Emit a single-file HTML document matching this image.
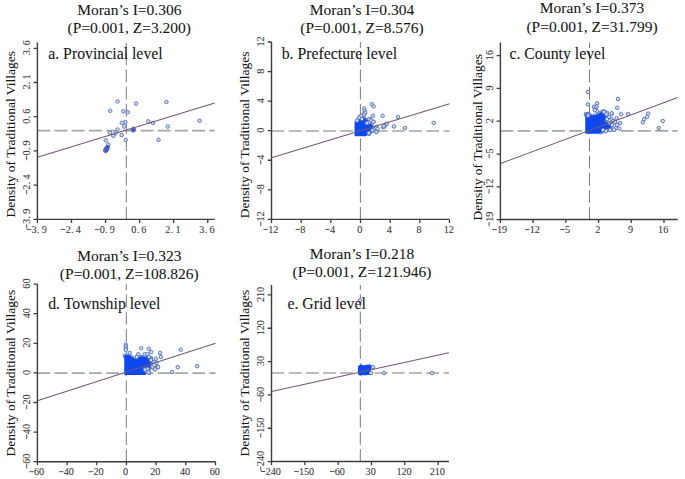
<!DOCTYPE html>
<html><head><meta charset="utf-8"><style>
html,body{margin:0;padding:0;background:#fff;}
body{width:685px;height:479px;overflow:hidden;}
svg{display:block;}
.tk{font-family:"Liberation Sans",sans-serif;font-size:9.8px;fill:#303030;stroke:#303030;stroke-width:0.15px;}
.tks{font-family:"Liberation Serif",serif;font-size:10.2px;fill:#3a3a3a;stroke:#3a3a3a;stroke-width:0.1px;}
.tt{font-family:"Liberation Serif",serif;font-size:15.5px;fill:#161616;stroke:#161616;stroke-width:0.07px;}
.pl{font-family:"Liberation Serif",serif;font-size:15.8px;fill:#161616;stroke:#161616;stroke-width:0.07px;}
.tkg{fill:#555;}
.yl{font-family:"Liberation Serif",serif;font-size:13.5px;fill:#161616;stroke:#161616;stroke-width:0.07px;}
</style></head><body>
<svg width="685" height="479" viewBox="0 0 685 479">
<line x1="37.40" y1="130.70" x2="214.70" y2="130.70" stroke="#a6a6a6" stroke-width="1.7" stroke-dasharray="12.8 4.4"/>
<line x1="126.30" y1="219.40" x2="126.30" y2="42.50" stroke="#7a7a7a" stroke-width="1" stroke-dasharray="12.8 4.4" stroke-dashoffset="0.5"/>
<g fill="#d2e0f6" stroke="#5873b8" stroke-width="1.05"></g>
<g fill="#d2e0f6" stroke="#5873b8" stroke-width="0.95"><circle cx="117.5" cy="101.4" r="1.75"/><circle cx="136.1" cy="103.6" r="1.75"/><circle cx="166.4" cy="102" r="1.75"/><circle cx="110.25" cy="110.8" r="1.75"/><circle cx="123.3" cy="111.4" r="1.75"/><circle cx="127.75" cy="112.1" r="1.75"/><circle cx="121.8" cy="122.8" r="1.75"/><circle cx="125.4" cy="122.1" r="1.75"/><circle cx="124.2" cy="126.5" r="1.75"/><circle cx="117.5" cy="129.5" r="1.75"/><circle cx="110" cy="132.7" r="1.75"/><circle cx="113.3" cy="135.8" r="1.75"/><circle cx="115.4" cy="133.3" r="1.75"/><circle cx="121.7" cy="135" r="1.75"/><circle cx="125.7" cy="140" r="1.75"/><circle cx="133.3" cy="128.8" r="1.75"/><circle cx="133.3" cy="130.5" r="1.75"/><circle cx="105.8" cy="140.4" r="1.75"/><circle cx="108.3" cy="144.6" r="1.75"/><circle cx="106.7" cy="148.5" r="1.75"/><circle cx="107.5" cy="147" r="1.75"/><circle cx="105.8" cy="150.8" r="1.75"/><circle cx="105.2" cy="150" r="1.75"/><circle cx="106.5" cy="148" r="1.75"/><circle cx="107" cy="149.5" r="1.75"/><circle cx="106" cy="150.5" r="1.75"/><circle cx="107.5" cy="147.5" r="1.75"/><circle cx="105.5" cy="151" r="1.75"/><circle cx="133.8" cy="129.5" r="1.75"/><circle cx="132.9" cy="129.9" r="1.75"/><circle cx="148.3" cy="121.3" r="1.75"/><circle cx="153" cy="123" r="1.75"/><circle cx="167.7" cy="126.6" r="1.75"/><circle cx="199.5" cy="120.7" r="1.75"/><circle cx="158.5" cy="139.8" r="1.75"/><circle cx="106.6" cy="148.6" r="1.9" fill="#2c58d8"/><circle cx="106.0" cy="150.3" r="1.9" fill="#2c58d8"/><circle cx="107.3" cy="147.4" r="1.9" fill="#2c58d8"/><circle cx="133.4" cy="129.8" r="1.9" fill="#2c58d8"/></g>
<line x1="37.40" y1="157.36" x2="214.70" y2="103.11" stroke="#745878" stroke-width="1.05"/>
<path d="M37.40 42.50V219.40H214.70" fill="none" stroke="#3d3d3d" stroke-width="1.4"/>
<path d="M37.43 219.40v3.6M37.40 219.36h-3.8M71.50 219.40v3.6M37.40 185.14h-3.8M105.56 219.40v3.6M37.40 150.93h-3.8M139.63 219.40v3.6M37.40 116.71h-3.8M173.69 219.40v3.6M37.40 82.50h-3.8M207.76 219.40v3.6M37.40 48.28h-3.8" stroke="#3d3d3d" stroke-width="1.3"/>
<g transform="translate(36.63 232.80)" class="tkg"><text class="tks" x="-2.52 1.60 7.57" y="0" text-anchor="middle">3.9</text><rect x="-9.80" y="-3.90" width="4.40" height="1.00"/></g>
<g transform="translate(30.10 219.36) rotate(-90) translate(0.5 0)" class="tkg"><text class="tks" x="-2.52 1.60 7.57" y="0" text-anchor="middle">3.9</text><rect x="-9.80" y="-3.90" width="4.40" height="1.00"/></g>
<g transform="translate(70.70 232.80)" class="tkg"><text class="tks" x="-2.52 1.60 7.57" y="0" text-anchor="middle">2.4</text><rect x="-9.80" y="-3.90" width="4.40" height="1.00"/></g>
<g transform="translate(30.10 185.14) rotate(-90) translate(0.5 0)" class="tkg"><text class="tks" x="-2.52 1.60 7.57" y="0" text-anchor="middle">2.4</text><rect x="-9.80" y="-3.90" width="4.40" height="1.00"/></g>
<g transform="translate(104.76 232.80)" class="tkg"><text class="tks" x="-2.52 1.60 7.57" y="0" text-anchor="middle">0.9</text><rect x="-9.80" y="-3.90" width="4.40" height="1.00"/></g>
<g transform="translate(30.10 150.93) rotate(-90) translate(0.5 0)" class="tkg"><text class="tks" x="-2.52 1.60 7.57" y="0" text-anchor="middle">0.9</text><rect x="-9.80" y="-3.90" width="4.40" height="1.00"/></g>
<g transform="translate(138.83 232.80)" class="tkg"><text class="tks" x="-5.05 -0.92 5.05" y="0" text-anchor="middle">0.6</text></g>
<g transform="translate(30.10 116.71) rotate(-90) translate(0.5 0)" class="tkg"><text class="tks" x="-5.05 -0.92 5.05" y="0" text-anchor="middle">0.6</text></g>
<g transform="translate(172.89 232.80)" class="tkg"><text class="tks" x="-5.05 -0.92 5.05" y="0" text-anchor="middle">2.1</text></g>
<g transform="translate(30.10 82.50) rotate(-90) translate(0.5 0)" class="tkg"><text class="tks" x="-5.05 -0.92 5.05" y="0" text-anchor="middle">2.1</text></g>
<g transform="translate(206.96 232.80)" class="tkg"><text class="tks" x="-5.05 -0.92 5.05" y="0" text-anchor="middle">3.6</text></g>
<g transform="translate(30.10 48.28) rotate(-90) translate(0.5 0)" class="tkg"><text class="tks" x="-5.05 -0.92 5.05" y="0" text-anchor="middle">3.6</text></g>
<text class="tt" x="129.3" y="15" text-anchor="middle">Moran’s I=0.306</text>
<text class="tt" x="129.3" y="33" text-anchor="middle">(P=0.001, Z=3.200)</text>
<text class="pl" x="48.2" y="59">a. Provincial level</text>
<text class="yl" transform="translate(14.8 134.3) rotate(-90)" text-anchor="middle">Density of Traditional Villages</text>
<line x1="271.50" y1="131.00" x2="449.50" y2="131.00" stroke="#a6a6a6" stroke-width="1.7" stroke-dasharray="12.8 4.4"/>
<line x1="360.40" y1="219.40" x2="360.40" y2="42.00" stroke="#7a7a7a" stroke-width="1" stroke-dasharray="12.8 4.4" stroke-dashoffset="0.5"/>
<g fill="#d2e0f6" stroke="#5873b8" stroke-width="1.05"><circle cx="360.6" cy="116.6" r="1.85"/><circle cx="363.2" cy="117.8" r="1.85"/><circle cx="366.0" cy="119.8" r="1.85"/><circle cx="368.6" cy="122.2" r="1.85"/><circle cx="371.2" cy="124.6" r="1.85"/><circle cx="372.4" cy="127.5" r="1.85"/><circle cx="371.6" cy="131.0" r="1.85"/><circle cx="369.0" cy="133.6" r="1.85"/></g>
<path d="M355.3 122.3L356.5 120.5L358.2 117.6L360.6 116.6L363.2 117.8L366 119.8L368.6 122.2L371.2 124.6L372.4 127.5L371.6 131L369 133.6L365.6 135.4L355.3 135.6Z" fill="#0c48ee" stroke="#0c48ee" stroke-width="1.5" stroke-linejoin="round"/>
<g fill="#d2e0f6" stroke="#5873b8" stroke-width="0.95"><circle cx="371.8" cy="104.2" r="1.75"/><circle cx="373.6" cy="106.4" r="1.75"/><circle cx="364.1" cy="108.5" r="1.75"/><circle cx="364.8" cy="112.6" r="1.75"/><circle cx="363.4" cy="114.8" r="1.75"/><circle cx="372.8" cy="115.8" r="1.75"/><circle cx="382.6" cy="115.8" r="1.75"/><circle cx="398" cy="117" r="1.75"/><circle cx="433.7" cy="122.8" r="1.75"/><circle cx="394" cy="126.5" r="1.75"/><circle cx="405" cy="128" r="1.75"/><circle cx="386.7" cy="123.9" r="1.75"/><circle cx="384.5" cy="126.5" r="1.75"/><circle cx="383" cy="127.2" r="1.75"/><circle cx="376.5" cy="131.6" r="1.75"/><circle cx="375" cy="128.7" r="1.75"/><circle cx="370" cy="119.2" r="1.75"/><circle cx="373.6" cy="121.8" r="1.75"/><circle cx="369.2" cy="133" r="1.75"/><circle cx="364.7" cy="110.9" r="1.75"/><circle cx="365" cy="112.8" r="1.75"/><circle cx="364" cy="114.7" r="1.75"/><circle cx="361.25" cy="116" r="1.75"/><circle cx="369.4" cy="119.4" r="1.75"/><circle cx="371.25" cy="120.6" r="1.75"/><circle cx="373.4" cy="121.9" r="1.75"/><circle cx="368.75" cy="122.5" r="1.75"/><circle cx="376.25" cy="126.9" r="1.75"/><circle cx="377.5" cy="128.75" r="1.75"/><circle cx="372.5" cy="130.3" r="1.75"/><circle cx="375.6" cy="130.9" r="1.75"/><circle cx="376.25" cy="131.9" r="1.75"/><circle cx="368.75" cy="133.1" r="1.75"/><circle cx="383.75" cy="126.25" r="1.75"/><circle cx="366.9" cy="123.1" r="1.75"/><circle cx="359" cy="117.5" r="1.75"/><circle cx="357" cy="120.5" r="1.75"/><circle cx="362" cy="119" r="1.75"/></g>
<line x1="271.50" y1="157.76" x2="449.50" y2="103.64" stroke="#745878" stroke-width="1.05"/>
<path d="M271.50 42.00V219.40H449.50" fill="none" stroke="#3d3d3d" stroke-width="1.4"/>
<path d="M271.50 219.40v3.6M271.50 219.38h-3.8M301.16 219.40v3.6M271.50 189.82h-3.8M330.83 219.40v3.6M271.50 160.26h-3.8M360.50 219.40v3.6M271.50 130.70h-3.8M390.17 219.40v3.6M271.50 101.14h-3.8M419.84 219.40v3.6M271.50 71.58h-3.8M449.50 219.40v3.6M271.50 42.02h-3.8" stroke="#3d3d3d" stroke-width="1.3"/>
<g transform="translate(270.70 232.80)" class="tkg"><text class="tks" x="0.00 5.05" y="0" text-anchor="middle">12</text><rect x="-7.27" y="-3.90" width="4.40" height="1.00"/></g>
<g transform="translate(264.20 219.38) rotate(-90) translate(0.5 0)" class="tkg"><text class="tks" x="0.00 5.05" y="0" text-anchor="middle">12</text><rect x="-7.27" y="-3.90" width="4.40" height="1.00"/></g>
<g transform="translate(300.36 232.80)" class="tkg"><text class="tks" x="2.52" y="0" text-anchor="middle">8</text><rect x="-4.75" y="-3.90" width="4.40" height="1.00"/></g>
<g transform="translate(264.20 189.82) rotate(-90) translate(0.5 0)" class="tkg"><text class="tks" x="2.52" y="0" text-anchor="middle">8</text><rect x="-4.75" y="-3.90" width="4.40" height="1.00"/></g>
<g transform="translate(330.03 232.80)" class="tkg"><text class="tks" x="2.52" y="0" text-anchor="middle">4</text><rect x="-4.75" y="-3.90" width="4.40" height="1.00"/></g>
<g transform="translate(264.20 160.26) rotate(-90) translate(0.5 0)" class="tkg"><text class="tks" x="2.52" y="0" text-anchor="middle">4</text><rect x="-4.75" y="-3.90" width="4.40" height="1.00"/></g>
<g transform="translate(359.70 232.80)" class="tkg"><text class="tks" x="0.00" y="0" text-anchor="middle">0</text></g>
<g transform="translate(264.20 130.70) rotate(-90) translate(0.5 0)" class="tkg"><text class="tks" x="0.00" y="0" text-anchor="middle">0</text></g>
<g transform="translate(389.37 232.80)" class="tkg"><text class="tks" x="0.00" y="0" text-anchor="middle">4</text></g>
<g transform="translate(264.20 101.14) rotate(-90) translate(0.5 0)" class="tkg"><text class="tks" x="0.00" y="0" text-anchor="middle">4</text></g>
<g transform="translate(419.04 232.80)" class="tkg"><text class="tks" x="0.00" y="0" text-anchor="middle">8</text></g>
<g transform="translate(264.20 71.58) rotate(-90) translate(0.5 0)" class="tkg"><text class="tks" x="0.00" y="0" text-anchor="middle">8</text></g>
<g transform="translate(448.70 232.80)" class="tkg"><text class="tks" x="-2.52 2.52" y="0" text-anchor="middle">12</text></g>
<g transform="translate(264.20 42.02) rotate(-90) translate(0.5 0)" class="tkg"><text class="tks" x="-2.52 2.52" y="0" text-anchor="middle">12</text></g>
<text class="tt" x="362" y="15" text-anchor="middle">Moran’s I=0.304</text>
<text class="tt" x="362" y="33" text-anchor="middle">(P=0.001, Z=8.576)</text>
<text class="pl" x="281.7" y="59">b. Prefecture level</text>
<text class="yl" transform="translate(248.8 134.9) rotate(-90)" text-anchor="middle">Density of Traditional Villages</text>
<line x1="500.40" y1="130.90" x2="677.70" y2="130.90" stroke="#a6a6a6" stroke-width="1.7" stroke-dasharray="12.8 4.4"/>
<line x1="589.50" y1="219.50" x2="589.50" y2="42.50" stroke="#7a7a7a" stroke-width="1" stroke-dasharray="12.8 4.4" stroke-dashoffset="0.5"/>
<g fill="#d2e0f6" stroke="#5873b8" stroke-width="1.05"><circle cx="586.0" cy="114.4" r="1.85"/><circle cx="588.25" cy="114.1" r="1.85"/><circle cx="590.1" cy="115.9" r="1.85"/><circle cx="594.5" cy="115.9" r="1.85"/><circle cx="598.25" cy="115.0" r="1.85"/><circle cx="601.4" cy="112.5" r="1.85"/><circle cx="603.9" cy="111.9" r="1.85"/><circle cx="605.75" cy="114.4" r="1.85"/><circle cx="604.88" cy="117.5" r="1.85"/><circle cx="604.0" cy="120.6" r="1.85"/><circle cx="603.9" cy="122.6" r="1.85"/><circle cx="607.0" cy="122.5" r="1.85"/><circle cx="610.1" cy="123.75" r="1.85"/><circle cx="611.4" cy="125.6" r="1.85"/><circle cx="609.5" cy="128.1" r="1.85"/><circle cx="606.7" cy="128.43" r="1.85"/><circle cx="603.9" cy="128.75" r="1.85"/><circle cx="602.6" cy="131.25" r="1.85"/><circle cx="600.1" cy="132.18" r="1.85"/></g>
<path d="M586 114.4L588.25 114.1L590.1 115.9L594.5 115.9L598.25 115L601.4 112.5L603.9 111.9L605.75 114.4L604 120.6L603.9 122.6L607 122.5L610.1 123.75L611.4 125.6L609.5 128.1L603.9 128.75L602.6 131.25L597.6 133.1L586 133.1Z" fill="#0c48ee" stroke="#0c48ee" stroke-width="1.5" stroke-linejoin="round"/>
<g fill="#d2e0f6" stroke="#5873b8" stroke-width="0.95"><circle cx="588" cy="92" r="1.75"/><circle cx="588" cy="104.4" r="1.75"/><circle cx="618" cy="99" r="1.75"/><circle cx="597.1" cy="103.4" r="1.75"/><circle cx="594" cy="106.7" r="1.75"/><circle cx="596.6" cy="106.7" r="1.75"/><circle cx="595" cy="108.6" r="1.75"/><circle cx="596.8" cy="110.9" r="1.75"/><circle cx="594.7" cy="110.1" r="1.75"/><circle cx="617.2" cy="107.7" r="1.75"/><circle cx="611.8" cy="113.6" r="1.75"/><circle cx="621.2" cy="114.3" r="1.75"/><circle cx="628.2" cy="114" r="1.75"/><circle cx="648.2" cy="113.6" r="1.75"/><circle cx="647.2" cy="116.8" r="1.75"/><circle cx="644.2" cy="119.1" r="1.75"/><circle cx="642.8" cy="122.3" r="1.75"/><circle cx="662.8" cy="120.9" r="1.75"/><circle cx="658.8" cy="127.9" r="1.75"/><circle cx="620.1" cy="123" r="1.75"/><circle cx="619.4" cy="128.6" r="1.75"/><circle cx="615.8" cy="128.2" r="1.75"/><circle cx="611.4" cy="119.1" r="1.75"/><circle cx="616.5" cy="118.2" r="1.75"/><circle cx="603.4" cy="111.4" r="1.75"/><circle cx="607" cy="112.8" r="1.75"/><circle cx="588" cy="115.6" r="1.75"/><circle cx="603.9" cy="112" r="1.75"/><circle cx="611.7" cy="113.3" r="1.75"/><circle cx="606.5" cy="114.3" r="1.75"/><circle cx="609" cy="117" r="1.75"/><circle cx="613" cy="121" r="1.75"/><circle cx="607" cy="119" r="1.75"/><circle cx="612" cy="125" r="1.75"/><circle cx="614" cy="129.5" r="1.75"/><circle cx="610" cy="130" r="1.75"/><circle cx="606" cy="131" r="1.75"/><circle cx="603" cy="130" r="1.75"/><circle cx="617" cy="125" r="1.75"/><circle cx="615" cy="122" r="1.75"/><circle cx="609" cy="123" r="1.75"/></g>
<line x1="500.40" y1="163.52" x2="677.70" y2="97.39" stroke="#745878" stroke-width="1.05"/>
<path d="M500.40 42.50V219.50H677.70" fill="none" stroke="#3d3d3d" stroke-width="1.4"/>
<path d="M500.39 219.50v3.6M500.40 219.69h-3.8M533.11 219.50v3.6M500.40 186.87h-3.8M565.83 219.50v3.6M500.40 154.04h-3.8M598.55 219.50v3.6M500.40 121.22h-3.8M631.27 219.50v3.6M500.40 88.40h-3.8M663.98 219.50v3.6M500.40 55.58h-3.8" stroke="#3d3d3d" stroke-width="1.3"/>
<g transform="translate(499.59 232.90)" class="tkg"><text class="tks" x="0.00 5.05" y="0" text-anchor="middle">19</text><rect x="-7.27" y="-3.90" width="4.40" height="1.00"/></g>
<g transform="translate(492.50 219.69) rotate(-90) translate(0.5 0)" class="tkg"><text class="tks" x="0.00 5.05" y="0" text-anchor="middle">19</text><rect x="-7.27" y="-3.90" width="4.40" height="1.00"/></g>
<g transform="translate(532.31 232.90)" class="tkg"><text class="tks" x="0.00 5.05" y="0" text-anchor="middle">12</text><rect x="-7.27" y="-3.90" width="4.40" height="1.00"/></g>
<g transform="translate(492.50 186.87) rotate(-90) translate(0.5 0)" class="tkg"><text class="tks" x="0.00 5.05" y="0" text-anchor="middle">12</text><rect x="-7.27" y="-3.90" width="4.40" height="1.00"/></g>
<g transform="translate(565.03 232.90)" class="tkg"><text class="tks" x="2.52" y="0" text-anchor="middle">5</text><rect x="-4.75" y="-3.90" width="4.40" height="1.00"/></g>
<g transform="translate(492.50 154.04) rotate(-90) translate(0.5 0)" class="tkg"><text class="tks" x="2.52" y="0" text-anchor="middle">5</text><rect x="-4.75" y="-3.90" width="4.40" height="1.00"/></g>
<g transform="translate(597.75 232.90)" class="tkg"><text class="tks" x="0.00" y="0" text-anchor="middle">2</text></g>
<g transform="translate(492.50 121.22) rotate(-90) translate(0.5 0)" class="tkg"><text class="tks" x="0.00" y="0" text-anchor="middle">2</text></g>
<g transform="translate(630.47 232.90)" class="tkg"><text class="tks" x="0.00" y="0" text-anchor="middle">9</text></g>
<g transform="translate(492.50 88.40) rotate(-90) translate(0.5 0)" class="tkg"><text class="tks" x="0.00" y="0" text-anchor="middle">9</text></g>
<g transform="translate(663.18 232.90)" class="tkg"><text class="tks" x="-2.52 2.52" y="0" text-anchor="middle">16</text></g>
<g transform="translate(492.50 55.58) rotate(-90) translate(0.5 0)" class="tkg"><text class="tks" x="-2.52 2.52" y="0" text-anchor="middle">16</text></g>
<text class="tt" x="592" y="13" text-anchor="middle">Moran’s I=0.373</text>
<text class="tt" x="592" y="32" text-anchor="middle">(P=0.001, Z=31.799)</text>
<text class="pl" x="509.4" y="59">c. County level</text>
<text class="yl" transform="translate(482.0 137.3) rotate(-90)" text-anchor="middle">Density of Traditional Villages</text>
<line x1="37.40" y1="373.20" x2="215.50" y2="373.20" stroke="#a6a6a6" stroke-width="1.7" stroke-dasharray="12.8 4.4"/>
<line x1="126.30" y1="461.70" x2="126.30" y2="284.10" stroke="#7a7a7a" stroke-width="1" stroke-dasharray="12.8 4.4" stroke-dashoffset="0.5"/>
<g fill="#d2e0f6" stroke="#5873b8" stroke-width="1.05"><circle cx="125.0" cy="355.8" r="1.85"/><circle cx="129.2" cy="355.8" r="1.85"/><circle cx="131.7" cy="357.5" r="1.85"/><circle cx="135.0" cy="360.0" r="1.85"/><circle cx="137.9" cy="358.5" r="1.85"/><circle cx="140.8" cy="357.0" r="1.85"/><circle cx="145.0" cy="357.5" r="1.85"/><circle cx="147.9" cy="357.9" r="1.85"/><circle cx="150.8" cy="358.3" r="1.85"/><circle cx="150.0" cy="361.7" r="1.85"/><circle cx="150.0" cy="364.6" r="1.85"/><circle cx="150.0" cy="367.5" r="1.85"/><circle cx="148.33" cy="369.73" r="1.85"/><circle cx="146.67" cy="371.97" r="1.85"/></g>
<path d="M125 355.8L129.2 355.8L131.7 357.5L135 360L140.8 357L145 357.5L150.8 358.3L150 361.7L150 367.5L145 374.2L125 374.2Z" fill="#0c48ee" stroke="#0c48ee" stroke-width="1.5" stroke-linejoin="round"/>
<g fill="#d2e0f6" stroke="#5873b8" stroke-width="0.95"><circle cx="125.8" cy="344.6" r="1.75"/><circle cx="125.8" cy="346.25" r="1.75"/><circle cx="125.8" cy="348.3" r="1.75"/><circle cx="125.8" cy="350" r="1.75"/><circle cx="129.8" cy="352.9" r="1.75"/><circle cx="141.25" cy="348.3" r="1.75"/><circle cx="148.75" cy="348.75" r="1.75"/><circle cx="151.25" cy="352.1" r="1.75"/><circle cx="138.3" cy="354.2" r="1.75"/><circle cx="144.6" cy="354.2" r="1.75"/><circle cx="147.5" cy="354.2" r="1.75"/><circle cx="160" cy="352.9" r="1.75"/><circle cx="160.8" cy="357.1" r="1.75"/><circle cx="155.8" cy="358.75" r="1.75"/><circle cx="136.7" cy="357.1" r="1.75"/><circle cx="154.2" cy="362.1" r="1.75"/><circle cx="155.8" cy="364.6" r="1.75"/><circle cx="157.9" cy="367.1" r="1.75"/><circle cx="154.6" cy="369.2" r="1.75"/><circle cx="152.5" cy="366.7" r="1.75"/><circle cx="147.5" cy="368.75" r="1.75"/><circle cx="146.7" cy="371.7" r="1.75"/><circle cx="149.2" cy="372.9" r="1.75"/><circle cx="145" cy="369.6" r="1.75"/><circle cx="180.7" cy="349.7" r="1.75"/><circle cx="177.8" cy="367.2" r="1.75"/><circle cx="197.2" cy="366.2" r="1.75"/><circle cx="172.2" cy="372" r="1.75"/><circle cx="158.1" cy="367.2" r="1.75"/><circle cx="155.1" cy="369.4" r="1.75"/><circle cx="154.4" cy="365" r="1.75"/><circle cx="156.6" cy="362.8" r="1.75"/><circle cx="148.6" cy="372.3" r="1.75"/><circle cx="136.9" cy="357" r="1.75"/><circle cx="151" cy="360" r="1.75"/><circle cx="149" cy="357" r="1.75"/></g>
<line x1="37.40" y1="400.86" x2="215.50" y2="343.34" stroke="#745878" stroke-width="1.05"/>
<path d="M37.40 284.10V461.70H215.50" fill="none" stroke="#3d3d3d" stroke-width="1.4"/>
<path d="M37.41 461.70v3.6M37.40 461.70h-3.8M67.09 461.70v3.6M37.40 432.10h-3.8M96.77 461.70v3.6M37.40 402.50h-3.8M126.45 461.70v3.6M37.40 372.90h-3.8M156.13 461.70v3.6M37.40 343.30h-3.8M185.81 461.70v3.6M37.40 313.70h-3.8M215.49 461.70v3.6M37.40 284.10h-3.8" stroke="#3d3d3d" stroke-width="1.3"/>
<g transform="translate(36.61 475.10)" class="tkg"><text class="tks" x="0.00 5.05" y="0" text-anchor="middle">60</text><rect x="-7.27" y="-3.90" width="4.40" height="1.00"/></g>
<g transform="translate(30.10 461.70) rotate(-90) translate(0.5 0)" class="tkg"><text class="tks" x="0.00 5.05" y="0" text-anchor="middle">60</text><rect x="-7.27" y="-3.90" width="4.40" height="1.00"/></g>
<g transform="translate(66.29 475.10)" class="tkg"><text class="tks" x="0.00 5.05" y="0" text-anchor="middle">40</text><rect x="-7.27" y="-3.90" width="4.40" height="1.00"/></g>
<g transform="translate(30.10 432.10) rotate(-90) translate(0.5 0)" class="tkg"><text class="tks" x="0.00 5.05" y="0" text-anchor="middle">40</text><rect x="-7.27" y="-3.90" width="4.40" height="1.00"/></g>
<g transform="translate(95.97 475.10)" class="tkg"><text class="tks" x="0.00 5.05" y="0" text-anchor="middle">20</text><rect x="-7.27" y="-3.90" width="4.40" height="1.00"/></g>
<g transform="translate(30.10 402.50) rotate(-90) translate(0.5 0)" class="tkg"><text class="tks" x="0.00 5.05" y="0" text-anchor="middle">20</text><rect x="-7.27" y="-3.90" width="4.40" height="1.00"/></g>
<g transform="translate(125.65 475.10)" class="tkg"><text class="tks" x="0.00" y="0" text-anchor="middle">0</text></g>
<g transform="translate(30.10 372.90) rotate(-90) translate(0.5 0)" class="tkg"><text class="tks" x="0.00" y="0" text-anchor="middle">0</text></g>
<g transform="translate(155.33 475.10)" class="tkg"><text class="tks" x="-2.52 2.52" y="0" text-anchor="middle">20</text></g>
<g transform="translate(30.10 343.30) rotate(-90) translate(0.5 0)" class="tkg"><text class="tks" x="-2.52 2.52" y="0" text-anchor="middle">20</text></g>
<g transform="translate(185.01 475.10)" class="tkg"><text class="tks" x="-2.52 2.52" y="0" text-anchor="middle">40</text></g>
<g transform="translate(30.10 313.70) rotate(-90) translate(0.5 0)" class="tkg"><text class="tks" x="-2.52 2.52" y="0" text-anchor="middle">40</text></g>
<g transform="translate(214.69 475.10)" class="tkg"><text class="tks" x="-2.52 2.52" y="0" text-anchor="middle">60</text></g>
<g transform="translate(30.10 284.10) rotate(-90) translate(0.5 0)" class="tkg"><text class="tks" x="-2.52 2.52" y="0" text-anchor="middle">60</text></g>
<text class="tt" x="129.3" y="261" text-anchor="middle">Moran’s I=0.323</text>
<text class="tt" x="129.3" y="279" text-anchor="middle">(P=0.001, Z=108.826)</text>
<text class="pl" x="48.2" y="309.4">d. Township level</text>
<text class="yl" transform="translate(14.9 373.1) rotate(-90)" text-anchor="middle">Density of Traditional Villages</text>
<line x1="271.50" y1="373.00" x2="448.90" y2="373.00" stroke="#a6a6a6" stroke-width="1.7" stroke-dasharray="12.8 4.4"/>
<line x1="360.30" y1="461.50" x2="360.30" y2="285.00" stroke="#7a7a7a" stroke-width="1" stroke-dasharray="12.8 4.4" stroke-dashoffset="0.5"/>
<g fill="#d2e0f6" stroke="#5873b8" stroke-width="1.05"></g>
<path d="M358.8 366.5L361 365.3L364 366.3L367 365.5L370.5 365.3L370.6 369L369.5 372L370.5 374L366 374.4L359 374.4L358.6 371Z" fill="#0c48ee" stroke="#0c48ee" stroke-width="1.5" stroke-linejoin="round"/>
<g fill="#d2e0f6" stroke="#5873b8" stroke-width="0.95"><circle cx="360.0" cy="300.5" r="1.75"/><circle cx="373.1" cy="367.2" r="1.75"/><circle cx="370.9" cy="373.1" r="1.75"/><circle cx="384" cy="373.1" r="1.75"/><circle cx="432" cy="373.1" r="1.75"/></g>
<line x1="271.50" y1="391.47" x2="448.90" y2="352.80" stroke="#745878" stroke-width="1.05"/>
<path d="M271.50 285.00V461.50H448.90" fill="none" stroke="#3d3d3d" stroke-width="1.4"/>
<path d="M271.50 461.50v3.6M271.50 461.60h-3.8M304.82 461.50v3.6M271.50 428.26h-3.8M338.14 461.50v3.6M271.50 394.92h-3.8M371.46 461.50v3.6M271.50 361.59h-3.8M404.77 461.50v3.6M271.50 328.25h-3.8M438.09 461.50v3.6M271.50 294.92h-3.8" stroke="#3d3d3d" stroke-width="1.3"/>
<g transform="translate(270.70 474.90)" class="tkg"><text class="tks" x="-2.52 2.52 7.57" y="0" text-anchor="middle">240</text><rect x="-9.80" y="-3.90" width="4.40" height="1.00"/></g>
<g transform="translate(264.20 461.60) rotate(-90) translate(0.5 0)" class="tkg"><text class="tks" x="-2.52 2.52 7.57" y="0" text-anchor="middle">240</text><rect x="-9.80" y="-3.90" width="4.40" height="1.00"/></g>
<g transform="translate(304.02 474.90)" class="tkg"><text class="tks" x="-2.52 2.52 7.57" y="0" text-anchor="middle">150</text><rect x="-9.80" y="-3.90" width="4.40" height="1.00"/></g>
<g transform="translate(264.20 428.26) rotate(-90) translate(0.5 0)" class="tkg"><text class="tks" x="-2.52 2.52 7.57" y="0" text-anchor="middle">150</text><rect x="-9.80" y="-3.90" width="4.40" height="1.00"/></g>
<g transform="translate(337.34 474.90)" class="tkg"><text class="tks" x="0.00 5.05" y="0" text-anchor="middle">60</text><rect x="-7.27" y="-3.90" width="4.40" height="1.00"/></g>
<g transform="translate(264.20 394.92) rotate(-90) translate(0.5 0)" class="tkg"><text class="tks" x="0.00 5.05" y="0" text-anchor="middle">60</text><rect x="-7.27" y="-3.90" width="4.40" height="1.00"/></g>
<g transform="translate(370.66 474.90)" class="tkg"><text class="tks" x="-2.52 2.52" y="0" text-anchor="middle">30</text></g>
<g transform="translate(264.20 361.59) rotate(-90) translate(0.5 0)" class="tkg"><text class="tks" x="-2.52 2.52" y="0" text-anchor="middle">30</text></g>
<g transform="translate(403.97 474.90)" class="tkg"><text class="tks" x="-5.05 0.00 5.05" y="0" text-anchor="middle">120</text></g>
<g transform="translate(264.20 328.25) rotate(-90) translate(0.5 0)" class="tkg"><text class="tks" x="-5.05 0.00 5.05" y="0" text-anchor="middle">120</text></g>
<g transform="translate(437.29 474.90)" class="tkg"><text class="tks" x="-5.05 0.00 5.05" y="0" text-anchor="middle">210</text></g>
<g transform="translate(264.20 294.92) rotate(-90) translate(0.5 0)" class="tkg"><text class="tks" x="-5.05 0.00 5.05" y="0" text-anchor="middle">210</text></g>
<text class="tt" x="362" y="259" text-anchor="middle">Moran’s I=0.218</text>
<text class="tt" x="362" y="277" text-anchor="middle">(P=0.001, Z=121.946)</text>
<text class="pl" x="287.4" y="309.4">e. Grid level</text>
<text class="yl" transform="translate(248.6 373.1) rotate(-90)" text-anchor="middle">Density of Traditional Villages</text>
</svg>
</body></html>
